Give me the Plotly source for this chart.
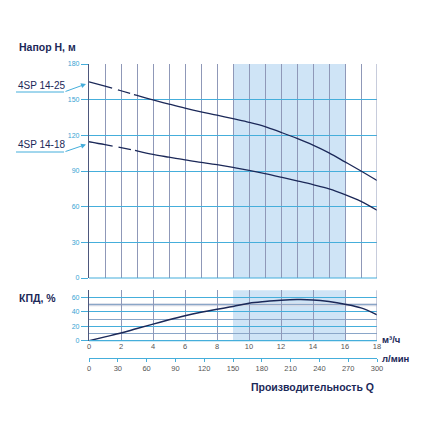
import plotly.graph_objects as go

# flow, m3/h
q = [0, 1, 2, 3, 4, 5, 6, 7, 8, 9, 10, 11, 12, 13, 14, 15, 16, 17, 18]
# head, m
h_14_25 = [165, 161.3, 157.5, 153.6, 149.8, 146.3, 142.9, 139.8, 137, 134, 131,
           127.4, 122.5, 117.4, 111.8, 105.3, 97.7, 90, 82]
h_14_18 = [114.6, 112.2, 109.6, 107, 104, 101.6, 99.3, 97.3, 95.3, 93, 90.5,
           87.8, 84.8, 81.7, 78.5, 75, 70.2, 64.5, 57]
# efficiency, %
eff = [0, 5.3, 10.6, 17, 23, 29, 34.6, 39.5, 43.8, 47.5, 52,
       54.4, 56.2, 57.1, 56.7, 54.4, 50.7, 45.6, 36]

dash_end = 3          # dashed part of head curves (m3/h)
work_zone = [9, 16]   # shaded recommended range
lmin_ticks = list(range(0, 301, 30))
q_ticks = list(range(0, 19, 2))

W = 430
NAVY = '#1b2858'
BLUE = '#45aedb'
GRAY = '#8f98b8'
SHADE = '#cfe4f6'
FONT = 'Liberation Sans, Arial, sans-serif'


def px(x):
    return x / W


def py(y):
    return 1 - y / W


fig = go.Figure()

for h in (h_14_25, h_14_18):
    n = dash_end + 1
    fig.add_trace(go.Scatter(x=q[:n], y=h[:n], mode='lines', line_shape='spline',
                             line=dict(color=NAVY, width=1.3, dash='24px,6px,13px,4px'),
                             xaxis='x', yaxis='y', hoverinfo='skip'))
    fig.add_trace(go.Scatter(x=q[dash_end:], y=h[dash_end:], mode='lines', line_shape='spline',
                             line=dict(color=NAVY, width=1.3),
                             xaxis='x', yaxis='y', hoverinfo='skip'))

fig.add_trace(go.Scatter(x=q, y=eff, mode='lines', line_shape='spline',
                         line=dict(color=NAVY, width=1.5),
                         xaxis='x2', yaxis='y2', hoverinfo='skip'))

# dummy trace to carry the л/мин axis
fig.add_trace(go.Scatter(x=[lmin_ticks[0], lmin_ticks[-1]], y=[0, 0], mode='lines',
                         line=dict(width=0), xaxis='x3', yaxis='y3', hoverinfo='skip'))

xdom = [px(89), px(377)]
tickfont_blue = dict(family=FONT, size=7, color='#3aa3d3')
tickfont_gray = dict(family=FONT, size=7.5, color='#555555')

fig.update_layout(
    width=W, height=W,
    margin=dict(l=0, r=0, t=0, b=0, pad=0),
    paper_bgcolor='white', plot_bgcolor='white',
    showlegend=False,
    xaxis=dict(domain=xdom, anchor='y', range=[0, 18], dtick=1, automargin=False,
               showticklabels=False, ticks='', showgrid=True, gridcolor=GRAY,
               gridwidth=1, zeroline=False, showline=False),
    yaxis=dict(domain=[py(278), py(64)], anchor='x', range=[0, 180], dtick=30,
               showgrid=True, gridcolor=BLUE, gridwidth=1, zeroline=False,
               automargin=False,
               ticks='outside', ticklen=7, tickcolor=BLUE, tickfont=tickfont_blue,
               showline=True, linecolor='#4d577c', linewidth=1.2),
    xaxis2=dict(domain=xdom, anchor='y2', range=[0, 18], tickvals=q_ticks,
                showgrid=True, gridcolor=GRAY, zeroline=False, showline=False,
                automargin=False, ticks='', tickfont=tickfont_gray),
    yaxis2=dict(domain=[py(340.7), py(290.3)], anchor='x2', range=[0, 70],
                tickvals=[0, 20, 40, 60], showgrid=True, gridcolor=BLUE,
                zeroline=False, ticks='outside', ticklen=7, tickcolor=BLUE,
                automargin=False,
                tickfont=tickfont_blue, showline=True, linecolor='#4d577c',
                linewidth=1.2,
                minor=dict(dtick=10, showgrid=True, gridcolor='#8aa6c8', ticks='')),
    xaxis3=dict(domain=xdom, anchor='free', position=py(358), range=[0, 300],
                tickvals=lmin_ticks, showgrid=False, zeroline=False,
                automargin=False,
                showline=True, linecolor=BLUE, linewidth=1.2, ticks='outside',
                ticklen=3, tickcolor=BLUE, tickfont=tickfont_gray),
    yaxis3=dict(domain=[0, 0.05], anchor='x3', visible=False, automargin=False),
)

# recommended working zone
for yr, xr in (('y domain', 'x'), ('y2 domain', 'x2')):
    fig.add_shape(type='rect', xref=xr, yref=yr, x0=work_zone[0], x1=work_zone[1],
                  y0=0, y1=1, fillcolor=SHADE, line_width=0, layer='below')

# light band at 50 % in the efficiency grid
fig.add_shape(type='line', xref='x2', yref='y2', x0=0, x1=18, y0=50, y1=50,
              line=dict(color='#d4d8e4', width=3), layer='below')

# borders of both plots
for yr, xr in (('y domain', 'x'), ('y2 domain', 'x2')):
    fig.add_shape(type='line', xref=xr, yref=yr, x0=18, x1=18, y0=0, y1=1,
                  line=dict(color=GRAY, width=1))
    fig.add_shape(type='line', xref=xr, yref=yr, x0=0, x1=18, y0=0, y1=0,
                  line=dict(color=BLUE, width=1.2))

# pump labels with pointer lines
labels = [('4SP 14-25', 85.5, 92, 84), ('4SP 14-18', 145, 152, 144.5)]
for text, ty, uy, ay in labels:
    fig.add_annotation(text=text, xref='paper', yref='paper', x=px(16), y=py(ty),
                       xanchor='left', yanchor='middle', showarrow=False,
                       font=dict(family=FONT, size=10, color=NAVY))
    fig.add_shape(type='line', xref='paper', yref='paper', x0=px(16), x1=px(64),
                  y0=py(uy), y1=py(uy), line=dict(color=BLUE, width=1))
    fig.add_annotation(text='', xref='paper', yref='paper', x=px(86), y=py(ay),
                       ax=-22, ay=uy - ay, showarrow=True, arrowhead=2,
                       arrowsize=1, arrowwidth=1, arrowcolor=BLUE)

bold = dict(family=FONT, size=10.5, color=NAVY)
fig.add_annotation(text='<b>Напор Н, м</b>', xref='paper', yref='paper',
                   x=px(17), y=py(47), xanchor='left', yanchor='middle',
                   showarrow=False, font=bold)
fig.add_annotation(text='<b>КПД, %</b>', xref='paper', yref='paper',
                   x=px(17), y=py(298), xanchor='left', yanchor='middle',
                   showarrow=False, font=bold)
fig.add_annotation(text='<b>м³/ч</b>', xref='paper', yref='paper',
                   x=px(380), y=py(339), xanchor='left', yanchor='middle',
                   showarrow=False, font=dict(family=FONT, size=9.5, color=NAVY))
fig.add_annotation(text='<b>л/мин</b>', xref='paper', yref='paper',
                   x=px(380), y=py(358), xanchor='left', yanchor='middle',
                   showarrow=False, font=dict(family=FONT, size=9.5, color=NAVY))
fig.add_annotation(text='<b>Производительность Q</b>', xref='paper', yref='paper',
                   x=px(376), y=py(387), xanchor='right', yanchor='middle',
                   showarrow=False, font=bold)

fig.write_html("out.html", config={'displayModeBar': False},
               post_script="document.body.style.margin='0';"
                           "document.body.style.overflow='hidden';")
